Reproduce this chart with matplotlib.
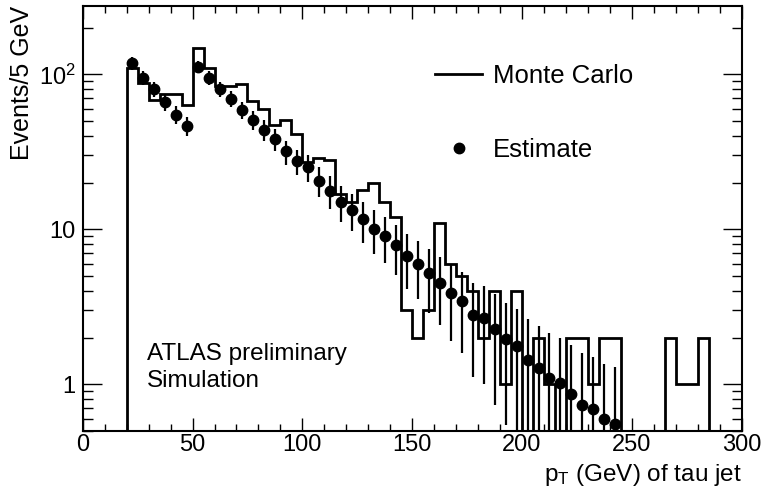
import numpy as np
import matplotlib
matplotlib.use("Agg")
import matplotlib.pyplot as plt
from matplotlib.ticker import FixedLocator, FuncFormatter, MultipleLocator, LogLocator
from matplotlib.lines import Line2D

plt.rcParams['font.family'] = ['Liberation Sans', 'DejaVu Sans']
plt.rcParams['mathtext.fontset'] = 'custom'
plt.rcParams['mathtext.rm'] = 'Liberation Sans'
plt.rcParams['mathtext.it'] = 'Liberation Sans:italic'

# Monte Carlo histogram: 5 GeV bins from 20 to 285 GeV
mc_edges = np.arange(20, 290, 5)
mc_counts = [110, 88, 68, 75, 75, 63, 147, 110, 84, 84, 87, 67, 60, 47, 51, 41,
             27, 29, 28, 17, 15, 18, 20, 15, 12, 3, 2, 3, 11, 6, 5, 4,
             2, 4, 1, 4, 0, 2, 1, 0, 2, 2, 1, 2, 2, 0, 0, 0, 0, 2, 1, 1, 2]

# Estimate points (bin centres 22.5 ... 242.5 GeV)
est_x = np.arange(22.5, 245, 5)
est_y = [118, 95, 80, 66, 55, 46.6, 112, 95, 80, 69.5, 59, 51, 44, 38, 31.8, 27.5,
         25.1, 20.6, 17.8, 15.1, 13.3, 11.6, 10.1, 9.1, 7.9, 6.7, 6.0, 5.2, 4.5, 3.9, 3.45, 2.81,
         2.66, 2.28, 1.96, 1.77, 1.43, 1.27, 1.10, 1.02, 0.86, 0.74, 0.69, 0.60, 0.555]
est_err = [11, 9.8, 9, 8.1, 7.4, 6.8, 10.6, 9.8, 9, 8.3, 7.7, 7.1, 6.6, 6.2, 5.6, 5.2,
           5.0, 4.5, 4.2, 3.9, 3.6, 3.4, 3.2, 3.0, 2.8, 2.6, 2.45, 2.3, 2.1, 2.0, 1.85, 1.7,
           1.65, 1.54, 1.41, 1.31, 1.2, 1.11, 1.04, 0.98, 0.93, 0.85, 0.82, 0.75, 0.73]

W, H = 763, 494
fig = plt.figure(figsize=(W / 100, H / 100), dpi=100)
L, R, T, B = 82.7, 741.7, 6, 431
ax = fig.add_axes([L / W, 1 - B / H, (R - L) / W, (B - T) / H])

ax.set_yscale('log', nonpositive='clip')
ax.set_xlim(0, 300)
ax.set_ylim(0.5, 276)

floor = 1e-3
mc_plot = np.where(np.array(mc_counts) > 0, mc_counts, floor)
ax.stairs(mc_plot, mc_edges, baseline=floor, color='black', linewidth=2.0)

ax.errorbar(est_x, est_y, yerr=est_err, fmt='o', color='black', markersize=7.5,
            elinewidth=1.6, capsize=0, zorder=3)

# ticks
ax.xaxis.set_major_locator(MultipleLocator(50))
ax.xaxis.set_minor_locator(MultipleLocator(10))
ax.yaxis.set_major_locator(FixedLocator([1, 10, 100]))
ax.yaxis.set_minor_locator(LogLocator(base=10, subs=np.arange(2, 10), numticks=20))

def yfmt(v, pos):
    if abs(v - 100) < 1e-6:
        return r'10$^{2}$'
    return '%g' % v
ax.yaxis.set_major_formatter(FuncFormatter(yfmt))
ax.yaxis.set_minor_formatter(FuncFormatter(lambda v, p: ''))

ax.tick_params(axis='both', which='both', direction='in', top=True, right=True,
               labelsize=17, width=1.0, color='black')
ax.tick_params(axis='x', which='major', length=9.4, pad=2)
ax.tick_params(axis='x', which='minor', length=4.7)
ax.tick_params(axis='y', which='major', length=13.7, pad=5)
ax.tick_params(axis='y', which='minor', length=7.2)
for s in ax.spines.values():
    s.set_linewidth(1.5)

# axis titles
ax.text(1.0, -0.074, r'p$_{\mathrm{T}}$ (GeV) of tau jet', transform=ax.transAxes,
        ha='right', va='top', fontsize=17.5)
fig.text(22 / W, 1 - 6 / H, 'Events/5 GeV', rotation=90, ha='center', va='top', fontsize=18)

# annotations
ax.text(0.0976, 0.181, 'ATLAS preliminary', transform=ax.transAxes, ha='left', va='center', fontsize=17.5)
ax.text(0.0976, 0.1176, 'Simulation', transform=ax.transAxes, ha='left', va='center', fontsize=17.5)

handles = [Line2D([], [], color='black', linewidth=2.0),
           Line2D([], [], color='black', marker='o', linestyle='none', markersize=7.5)]
ax.legend(handles, ['Monte Carlo', 'Estimate'], loc='upper left', bbox_to_anchor=(0.5346, 0.8646),
          frameon=False, fontsize=18.5, handlelength=1.84, handletextpad=0.43,
          labelspacing=1.96, borderpad=0, borderaxespad=0)

fig.savefig('out.png', dpi=100)
